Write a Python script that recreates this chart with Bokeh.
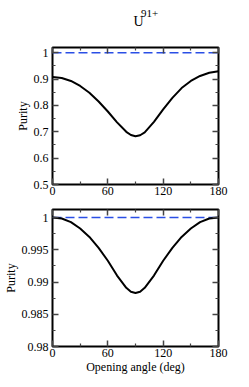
from bokeh.plotting import figure
from bokeh.layouts import column
from bokeh.models import Range1d, FixedTicker, LinearAxis
from bokeh.core.properties import value
from bokeh.embed import file_html
from bokeh.resources import INLINE

# Data
angle = [0, 10, 20, 30, 40, 50, 60, 70, 80, 85, 90, 95, 100, 110, 120, 130, 140, 150, 160, 170, 180]
purity_top = [0.908, 0.904, 0.893, 0.874, 0.848, 0.815, 0.777, 0.736, 0.700, 0.688, 0.683, 0.687,
              0.698, 0.738, 0.785, 0.829, 0.866, 0.893, 0.912, 0.924, 0.930]
purity_bot = [1.0000, 0.99985, 0.9993, 0.9983, 0.9970, 0.9953, 0.9933, 0.9910, 0.9891, 0.9885, 0.9883,
              0.9885, 0.9891, 0.9910, 0.9933, 0.9953, 0.9970, 0.9983, 0.9993, 0.99985, 1.0000]
ref_x = [0, 180]
ref_y = [1.0, 1.0]

x_ticks = [0, 60, 120, 180]
x_minor = [30, 90, 150]
x_labels = ["0", "60", "120", "180"]
top_ticks = [0.5, 0.6, 0.7, 0.8, 0.9, 1.0]
top_minor = [0.55, 0.65, 0.75, 0.85, 0.95]
top_labels = ["0.5", "0.6", "0.7", "0.8", "0.9", "1"]
bot_ticks = [0.98, 0.985, 0.99, 0.995, 1.0]
bot_minor = [0.9825, 0.9875, 0.9925, 0.9975]
bot_labels = ["0.98", "0.985", "0.99", "0.995", "1"]

title_main = "U"
title_sup = "91+"
y_title = "Purity"
x_title = "Opening angle (deg)"

FONT = "Liberation Serif"
W = 245


def style_axis(ax, ticks, minor, labels, show_labels):
    ax.ticker = FixedTicker(ticks=ticks, minor_ticks=minor)
    ax.major_tick_in = 6
    ax.major_tick_out = 0
    ax.minor_tick_in = 3
    ax.minor_tick_out = 0
    ax.major_tick_line_width = 1.5
    ax.minor_tick_line_width = 1.2
    ax.major_tick_line_color = "#444444"
    ax.minor_tick_line_color = "#444444"
    ax.axis_line_color = None
    ax.major_label_text_font = FONT
    ax.major_label_text_color = "black"
    ax.axis_label_text_font = FONT
    ax.axis_label_text_font_size = "12px"
    ax.axis_label_text_font_style = "normal"
    ax.axis_label_text_color = "black"
    if show_labels:
        ax.major_label_overrides = {t: l for t, l in zip(ticks, labels)}
        ax.major_label_text_font_size = "12px"
    else:
        ax.major_label_overrides = {t: "" for t in ticks}
        ax.major_label_text_font_size = "0px"
        ax.major_label_standoff = 0


def make_fig(height, border_top, border_bottom, yr, yt, ym, yl, xlabel=None):
    p = figure(width=W, height=height, output_backend="svg", toolbar_location=None,
               x_range=Range1d(0, 180), y_range=Range1d(*yr),
               min_border_left=50, min_border_right=W - 218,
               min_border_top=border_top, min_border_bottom=border_bottom,
               x_axis_location=None, y_axis_location=None)
    p.grid.visible = False
    p.outline_line_color = "black"
    p.outline_line_width = 2
    p.background_fill_color = "white"
    p.border_fill_color = "white"

    xb = LinearAxis()
    style_axis(xb, x_ticks, x_minor, x_labels, True)
    xb.major_label_standoff = 2
    if xlabel:
        xb.axis_label = xlabel
        xb.axis_label_standoff = 0
    p.add_layout(xb, "below")
    xa = LinearAxis()
    style_axis(xa, x_ticks, x_minor, x_labels, False)
    p.add_layout(xa, "above")

    yleft = LinearAxis()
    style_axis(yleft, yt, ym, yl, True)
    yleft.major_label_standoff = 4
    yleft.axis_label = y_title
    yleft.axis_label_standoff = 1
    p.add_layout(yleft, "left")
    yright = LinearAxis()
    style_axis(yright, yt, ym, yl, False)
    p.add_layout(yright, "right")
    return p


# Title strip
pt = figure(width=W, height=40, output_backend="svg", toolbar_location=None,
            x_range=Range1d(0, W), y_range=Range1d(40, 0),
            min_border=0, x_axis_location=None, y_axis_location=None)
pt.grid.visible = False
pt.outline_line_color = None
pt.text(x=[119.5], y=[21], text=[title_main], text_font=value(FONT), text_font_size="14px",
        text_align="left", text_baseline="alphabetic", text_color="black")
pt.text(x=[130.5], y=[13], text=[title_sup], text_font=value(FONT), text_font_size="11px",
        text_align="left", text_baseline="alphabetic", text_color="black")

# Top panel
p1 = make_fig(163, 7, 19, (0.5, 1.02), top_ticks, top_minor, top_labels)
p1.line(ref_x, ref_y, line_color="#2a4fe6", line_width=1.6, line_dash="9 4")
p1.line(angle, purity_top, line_color="black", line_width=2)

# Bottom panel
p2 = make_fig(184, 6, 41, (0.98, 1.00125), bot_ticks, bot_minor, bot_labels, xlabel=x_title)
p2.line(ref_x, ref_y, line_color="#2a4fe6", line_width=1.6, line_dash="9 4")
p2.line(angle, purity_bot, line_color="black", line_width=2)

layout = column(pt, p1, p2)
open("out.html", "w").write(file_html(layout, INLINE))
